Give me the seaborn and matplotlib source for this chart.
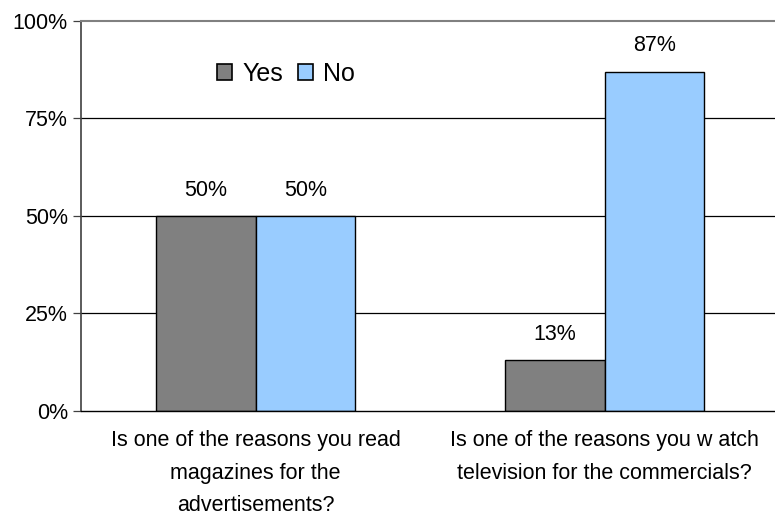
import pandas as pd
import numpy as np
import seaborn as sns
import matplotlib.pyplot as plt
import matplotlib.ticker as ticker
from matplotlib.patches import Patch

questions = ["Is one of the reasons you read\nmagazines for the\nadvertisements?",
             "Is one of the reasons you w atch\ntelevision for the commercials?"]
answers   = ["Yes", "No"]
yes_vals  = [0.50, 0.13]
no_vals   = [0.50, 0.87]
colors    = ["#808080", "#99CCFF"]

df = pd.DataFrame({
    "question": questions * 2,
    "answer":   ["Yes"] * 2 + ["No"] * 2,
    "share":    yes_vals + no_vals,
})

sns.set_style("white")
plt.rcParams['font.family'] = ['Liberation Sans', 'DejaVu Sans']
plt.rcParams['text.color'] = "black"
plt.rcParams['xtick.color'] = "black"
plt.rcParams['ytick.color'] = "black"
FS = 15.5

fig = plt.figure(figsize=(7.75, 5.16), dpi=100)
ax  = fig.add_axes([0.1045, 0.2035, 0.901, 0.7558])

sns.barplot(data=df, x="question", y="share", hue="answer", hue_order=answers,
            palette=colors, saturation=1, width=0.57, edgecolor="black", linewidth=1.0,
            legend=False, ax=ax)

for c in ax.containers:
    ax.bar_label(c, labels=[f"{v*100:.0f}%" for v in c.datavalues],
                 padding=11, fontsize=FS, color="black")

ax.set_xlim(-0.5, 1.5)
ax.set_ylim(0, 1)
ax.set_yticks([0, 0.25, 0.5, 0.75, 1.0])
ax.yaxis.set_major_formatter(ticker.FuncFormatter(lambda v, p: f"{v*100:.0f}%"))
for y in [0.25, 0.5, 0.75]:
    ax.axhline(y, color="black", linewidth=0.9, zorder=0)

ax.xaxis.set_minor_locator(ticker.FixedLocator([0.5]))
ax.tick_params(axis="x", which="major", length=0, pad=14, labelsize=FS, labelcolor="black")
ax.tick_params(axis="x", which="minor", length=6, width=0.9, color="black", direction="out")
ax.tick_params(axis="y", length=6, width=0.9, color="#404040", direction="out",
               labelsize=FS, labelcolor="black", left=True)
for lab in ax.get_xticklabels():
    lab.set_linespacing(1.72)
ax.set_xlabel("")
ax.set_ylabel("")

ax.spines["right"].set_visible(False)
ax.spines["top"].set_color("#808080")
ax.spines["top"].set_linewidth(1.5)
ax.spines["left"].set_color("#404040")
ax.spines["left"].set_linewidth(1.2)
ax.spines["bottom"].set_color("black")
ax.spines["bottom"].set_linewidth(1.0)

handles = [Patch(facecolor=col, edgecolor="black", linewidth=1.2) for col in colors]
ax.legend(handles, answers, loc="center", bbox_to_anchor=(0.294, 0.864), ncol=2,
          frameon=False, fontsize=18, handlelength=0.6, handleheight=0.6,
          handletextpad=0.4, columnspacing=0.6)

fig.savefig("out.png", dpi=100)
